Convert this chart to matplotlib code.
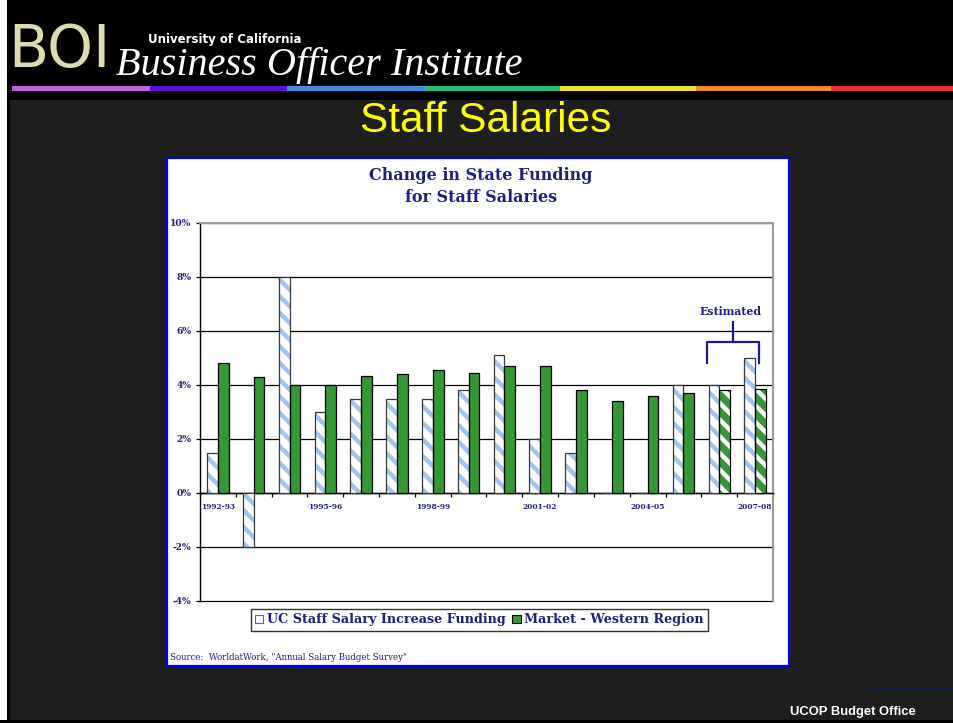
import matplotlib
matplotlib.use("Agg")
import matplotlib.pyplot as plt
from matplotlib.patches import Rectangle, Patch
import numpy as np

# ---------------- data ----------------
years = ["1992-93", "1993-94", "1994-95", "1995-96", "1996-97", "1997-98",
         "1998-99", "1999-00", "2000-01", "2001-02", "2002-03", "2003-04",
         "2004-05", "2005-06", "2006-07", "2007-08"]
uc_funding = [1.5, -2.0, 8.0, 3.0, 3.5, 3.5, 3.5, 3.8, 5.1, 2.0, 1.5, 0.0,
              0.0, 4.0, 4.0, 5.0]
market_western = [4.8, 4.3, 4.0, 4.0, 4.35, 4.4, 4.55, 4.45, 4.7, 4.7, 3.8,
                  3.4, 3.6, 3.7, 3.8, 3.85]
estimated = [False] * 14 + [True] * 2
labeled_years = ["1992-93", "1995-96", "1998-99", "2001-02", "2004-05", "2007-08"]
y_ticks = [-4, -2, 0, 2, 4, 6, 8, 10]
series_names = ["UC Staff Salary Increase Funding", "Market - Western Region"]

# ---------------- style ----------------
W, H = 954, 723
NAVY = "#1f1f85"
GREEN = "#339933"
HATCH_BLUE = "#9fc4ee"
SERIF = ["DejaVu Serif"]
plt.rcParams["hatch.linewidth"] = 3.2

fig = plt.figure(figsize=(W / 100, H / 100), dpi=100)
fig.patch.set_facecolor("#1e1e1e")


def rect(x0, y0, x1, y1, **kw):
    fig.add_artist(Rectangle((x0 / W, 1 - y1 / H), (x1 - x0) / W, (y1 - y0) / H,
                             transform=fig.transFigure, **kw))


def ftext(x, y, s, **kw):
    fig.text(x / W, 1 - y / H, s, **kw)


# slide frame / header
rect(0, 0, W, 100, facecolor="black", edgecolor="none", zorder=-9)
rect(0, 0, 7, H, facecolor="white", edgecolor="none", zorder=-8)
rect(7, 0, 10, H, facecolor="black", edgecolor="none", zorder=-8)
rect(0, 720, W, H, facecolor="black", edgecolor="none", zorder=-8)

rainbow = [(12, 150, "#c35ee0"), (150, 287, "#5a12d2"), (287, 425, "#3a8ee2"),
           (425, 560, "#22c070"), (560, 696, "#f0e024"), (696, 831, "#f08a24"),
           (831, 954, "#e83030")]
for a, b, c in rainbow:
    rect(a, 86, b, 91, facecolor=c, edgecolor="none", zorder=-7)

ftext(8, 50, "BOI", fontsize=42, color="#dcdcae", ha="left", va="center",
      family=["DejaVu Sans"])
ftext(148, 40, "University of California", fontsize=8.5, color="white",
      ha="left", va="center", weight="bold", family=["DejaVu Sans"])
ftext(116, 66, "Business Officer Institute", fontsize=29, color="white",
      ha="left", va="center", style="italic", family=["Liberation Serif"])

ftext(486, 121, "Staff Salaries", fontsize=30.5, color="#ffff00", ha="center",
      va="center", family=["Liberation Sans"])

ftext(790, 712, "UCOP Budget Office", fontsize=9.4, color="white",
      ha="left", va="center", weight="bold", family=["Liberation Sans"])
fig.add_artist(plt.Line2D([868 / W, 1], [1 - 688 / H, 1 - 688 / H],
                          transform=fig.transFigure, color="#102060", lw=1.2))

# chart panel
rect(167, 158, 789, 666, facecolor="white", edgecolor="#0000ff", lw=1.6,
     zorder=-5)

ftext(481, 175, "Change in State Funding", fontsize=11.5, color=NAVY,
      weight="bold", ha="center", va="center", family=SERIF)
ftext(481, 198, "for Staff Salaries", fontsize=11.5, color=NAVY,
      weight="bold", ha="center", va="center", family=SERIF)
ftext(170, 658, 'Source:  WorldatWork, "Annual Salary Budget Survey"',
      fontsize=6.2, color=NAVY, ha="left", va="center", family=SERIF)

# ---------------- axes ----------------
ax = fig.add_axes([200 / W, 1 - 601 / H, 573 / W, 378 / H])
ax.set_facecolor("white")
x = np.arange(len(years))
bw = 0.3

ax.bar(x - bw / 2, uc_funding, bw, color="white", edgecolor=HATCH_BLUE,
       hatch="\\\\", linewidth=0, zorder=3)
ax.bar(x - bw / 2, uc_funding, bw, fill=False, edgecolor="#3a3a3a",
       linewidth=0.9, zorder=4)
mk = ax.bar(x + bw / 2, market_western, bw, color=GREEN, edgecolor="white",
            linewidth=0, zorder=3)
for p, est in zip(mk, estimated):
    if est:
        p.set_hatch("\\\\")
ax.bar(x + bw / 2, market_western, bw, fill=False, edgecolor="black",
       linewidth=0.9, zorder=4)

ax.set_xlim(-0.5, len(years) - 0.5)
ax.set_ylim(min(y_ticks), max(y_ticks))
ax.set_yticks(y_ticks)
ax.set_yticklabels([f"{v}%" for v in y_ticks])
ax.yaxis.grid(True, color="black", lw=0.9)
for gl in ax.get_ygridlines():
    gl.set_clip_on(False)
ax.set_axisbelow(True)

ax.spines["left"].set_color("black")
ax.spines["left"].set_linewidth(1.0)
ax.spines["bottom"].set_position(("data", 0))
ax.spines["bottom"].set_color("black")
ax.spines["bottom"].set_linewidth(1.0)
for s in ("top", "right"):
    ax.spines[s].set_color("#9a9a9a")
    ax.spines[s].set_linewidth(1.5)

ax.set_xticks([years.index(y) for y in labeled_years])
ax.set_xticklabels(labeled_years)
ax.set_xticks(np.arange(len(years) + 1) - 0.5, minor=True)
ax.tick_params(axis="x", which="major", length=0, pad=7.5)
ax.tick_params(axis="x", which="minor", length=3, direction="out", width=0.9)
ax.tick_params(axis="y", length=3, direction="out", width=0.9, pad=3)
for lab in ax.get_xticklabels():
    lab.set_fontfamily(SERIF)
    lab.set_fontweight("bold")
    lab.set_fontsize(5.4)
    lab.set_color(NAVY)
for lab in ax.get_yticklabels():
    lab.set_fontfamily(SERIF)
    lab.set_fontweight("bold")
    lab.set_fontsize(6.6)
    lab.set_color(NAVY)

# Estimated bracket over the estimated years
est_idx = [i for i, e in enumerate(estimated) if e]
bl = min(est_idx) - 0.35
br = max(est_idx) + 0.1
top_val = max(max(uc_funding[i], market_western[i]) for i in est_idx)
yb = top_val + 0.6
ym = (bl + br) / 2
ax.plot([bl, bl, br, br], [top_val - 0.17, yb, yb, top_val - 0.17],
        color="#1a1a99", lw=1.6, zorder=5, clip_on=False)
ax.plot([ym, ym], [yb, yb + 0.75], color="#1a1a99", lw=1.6, zorder=5,
        clip_on=False)
ax.text(ym - 0.05, yb + 1.13, "Estimated", ha="center", va="center",
        fontsize=7.8, weight="bold", color=NAVY, family=SERIF)

handles = [Patch(facecolor="white", edgecolor="#6a6a6a", lw=0.8),
           Patch(facecolor=GREEN, edgecolor="black", lw=0.8)]
leg = ax.legend(handles, series_names, loc="center",
                bbox_to_anchor=(479.5 / W, 1 - 620 / H),
                bbox_transform=fig.transFigure, ncol=2, frameon=True,
                fancybox=False, edgecolor="#333333", framealpha=1,
                prop=dict(family=SERIF, weight="bold", size=9.2),
                labelcolor=NAVY, handlelength=0.65, handleheight=0.65,
                handletextpad=0.3, columnspacing=0.5, borderpad=0.35,
                borderaxespad=0)
leg.get_frame().set_linewidth(1.0)

fig.savefig("out.png", dpi=100, facecolor=fig.get_facecolor())
